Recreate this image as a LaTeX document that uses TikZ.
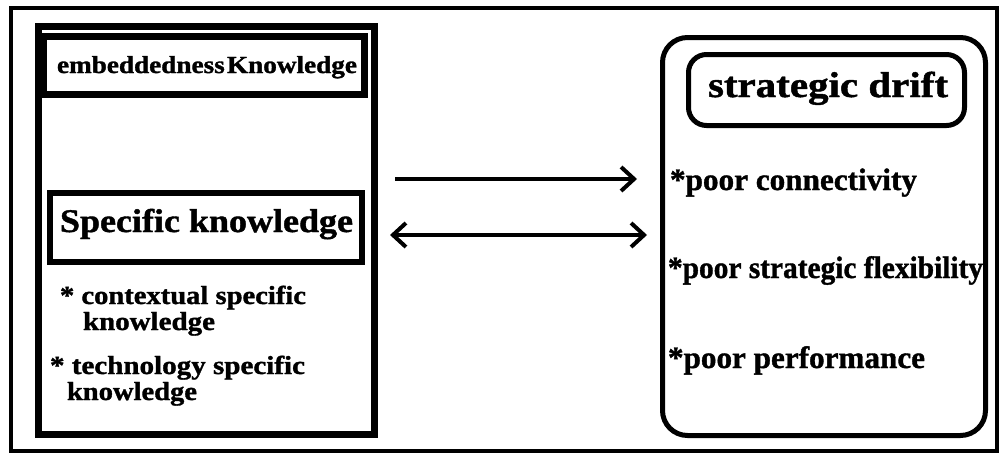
\documentclass[tikz,border=0pt]{standalone}
\usepackage{fontspec}
\setmainfont{Liberation Serif}[BoldFeatures={FakeBold=1.2}]
\usetikzlibrary{arrows.meta}
\newcommand\fitw[3]{\resizebox{#1}{\height}{\fontsize{#2}{#2}\selectfont\bfseries #3}}
\begin{document}
\begin{tikzpicture}[x=1pt,y=-1pt,
  box/.style={draw, inner sep=0pt, outer sep=0pt},
  txt/.style={anchor=base west, inner sep=0pt, outer sep=0pt},
  tipb/.tip={Straight Barb[length=13pt,width=24pt,line width=4pt]},
  arr/.style={line width=4pt, -tipb},
  arrboth/.style={line width=4pt, tipb-tipb}]
\useasboundingbox (0,0) rectangle (1005,455);
% outer frame
\node[box, line width=4pt, minimum width=986pt, minimum height=443pt] (F) at (504,229.5) {};
% left panel
\node[box, line width=7pt, minimum width=336pt, minimum height=408pt] (L) at (206.5,230.5) {};
\node[box, line width=7pt, minimum width=321pt, minimum height=58pt] (E) at (204,65.5) {};
\node[box, line width=6pt, minimum width=312pt, minimum height=69pt] (S) at (206,227.5) {};
% right panel
\node[box, line width=5pt, rounded corners=25pt, minimum width=323pt, minimum height=398pt] (R) at (824,236.5) {};
\node[box, line width=5pt, rounded corners=18pt, minimum width=276pt, minimum height=71pt] (D) at (826.5,90) {};
% texts
\node[txt] (te) at (57,73) {\fitw{300pt}{24.5}{embeddedness\hspace{2pt}Knowledge}};
\node[txt] (ts) at (60,232) {\fitw{293pt}{33}{Specific knowledge}};
\node[txt] (tc1) at (60,304) {\fitw{246pt}{26}{* contextual specific}};
\node[txt] (tc2) at (83,330) {\fitw{132pt}{26}{knowledge}};
\node[txt] (tt1) at (50,374) {\fitw{255pt}{26}{* technology specific}};
\node[txt] (tt2) at (67,400) {\fitw{130pt}{26}{knowledge}};
\node[txt] (td) at (708,97) {\fitw{240pt}{36}{strategic drift}};
\node[txt] (r1) at (670,190) {\fitw{247pt}{31}{*poor connectivity}};
\node[txt] (r2) at (668,278) {\fitw{315pt}{31}{*poor strategic flexibility}};
\node[txt] (r3) at (668,368) {\fitw{257pt}{31}{*poor performance}};
% arrows
\draw[arr, shorten <=20.5pt, shorten >=25.5pt] ([yshift=51.5pt]L.east) -- ([yshift=57.5pt]R.west);
\draw[arrboth, shorten <=15.5pt, shorten >=15.5pt] ([yshift=-4.5pt]L.east) -- ([yshift=1.5pt]R.west);
\end{tikzpicture}
\end{document}
